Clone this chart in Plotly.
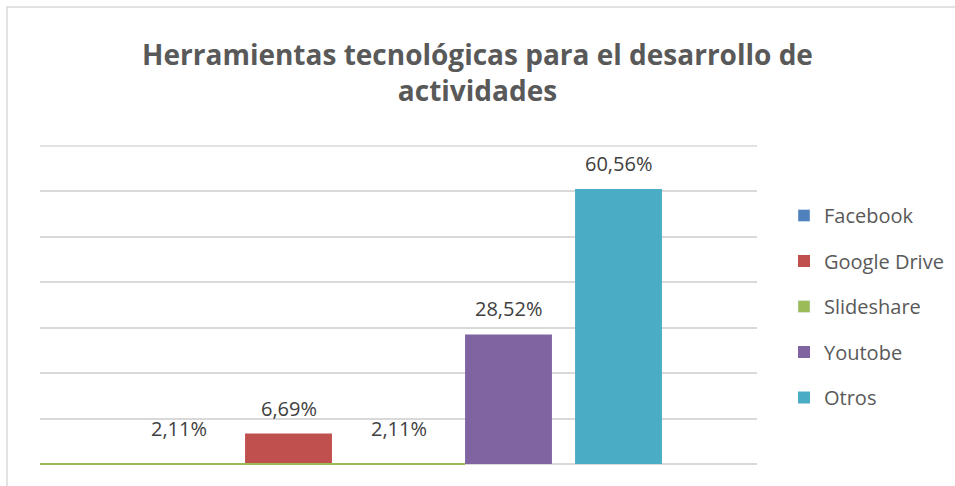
import plotly.graph_objects as go

title = "Herramientas tecnológicas para el desarrollo de<br>actividades"
series_names = ["Facebook", "Google Drive", "Slideshare", "Youtobe", "Otros"]
series_values = [2.11, 6.69, 2.11, 28.52, 60.56]
series_colors = ["#4f81bd", "#c0504d", "#9bbb59", "#8064a2", "#4bacc6"]
bar_hidden = [True, False, True, False, False]   # bars not drawn in the reference
y_ticks = [0, 10, 20, 30, 40, 50, 60, 70]

FONT = "Open Sans, sans-serif"
BAR_W = 0.79

fig = go.Figure()
for i, (name, val, col, hid) in enumerate(zip(series_names, series_values, series_colors, bar_hidden)):
    fig.add_trace(go.Bar(
        x=[i], y=[val], name=name, width=BAR_W,
        marker=dict(color="rgba(0,0,0,0)" if hid else col, line=dict(width=0)),
        legendgroup=name, legendrank=i + 1, showlegend=not hid, hoverinfo="name+y",
    ))
    if hid:
        fig.add_trace(go.Bar(
            x=[i], y=[None], name=name, width=BAR_W, marker=dict(color=col),
            legendgroup=name, legendrank=i + 1, showlegend=True,
        ))
    fig.add_annotation(
        x=i, y=val, xref="x", yref="y", text=f"{val:.2f}%".replace(".", ","),
        showarrow=False, yanchor="bottom", yshift=10,
        font=dict(family=FONT, size=20, color="#404040"),
    )

L, R, T, B = 40, 198, 146, 22
W, H = 955, 486
pw, ph = W - L - R, H - T - B
n = len(series_names)
x_lo = (n - 1) / 2 - (pw / 110) / 2
x_hi = (n - 1) / 2 + (pw / 110) / 2
y_top = y_ticks[-1]

fig.update_layout(
    width=W, height=H,
    margin=dict(l=L, r=R, t=T, b=B, autoexpand=False),
    paper_bgcolor="white", plot_bgcolor="white",
    barmode="overlay",
    title=dict(text=title, x=0.5, xref="container", xanchor="center",
               y=1 - 65 / H, yref="container", yanchor="middle",
               font=dict(family=FONT, size=28, color="#595959", weight="bold")),
    xaxis=dict(range=[x_lo, x_hi], showticklabels=False, showgrid=False, zeroline=False,
               showline=False, fixedrange=True),
    yaxis=dict(range=[0, y_top], tickvals=y_ticks, showticklabels=False, showgrid=True,
               gridcolor="#d9d9d9", gridwidth=1.5, zeroline=True, zerolinecolor="#d9d9d9",
               zerolinewidth=1.5, showline=False, fixedrange=True),
    legend=dict(xref="container", yref="container", x=784 / W, y=1 - 196 / H,
                xanchor="left", yanchor="top",
                font=dict(family=FONT, size=20, color="#595959"),
                tracegroupgap=16.5, itemwidth=30, bgcolor="rgba(0,0,0,0)"),
    showlegend=True,
    shapes=[
        # top gridline (at the plot edge)
        dict(type="line", xref="paper", yref="paper", x0=0, x1=1, y0=1, y1=1,
             line=dict(color="#d9d9d9", width=1.5), layer="below"),
        # green baseline segment
        dict(type="line", xref="paper", yref="paper", x0=0,
             x1=(3 - BAR_W / 2 - x_lo) / (x_hi - x_lo), y0=0, y1=0,
             line=dict(color="#9bbb59", width=2), layer="above"),
        # chart border
        dict(type="rect", xref="paper", yref="paper",
             x0=(7 - L) / pw, x1=(962 - L) / pw, y0=(464 - 500) / ph, y1=(464 - 7) / ph,
             line=dict(color="#d9d9d9", width=1.5), fillcolor="rgba(0,0,0,0)", layer="below"),
    ],
)

fig.write_html("out.html", config={"displayModeBar": False},
               post_script="document.body.style.margin='0';")
